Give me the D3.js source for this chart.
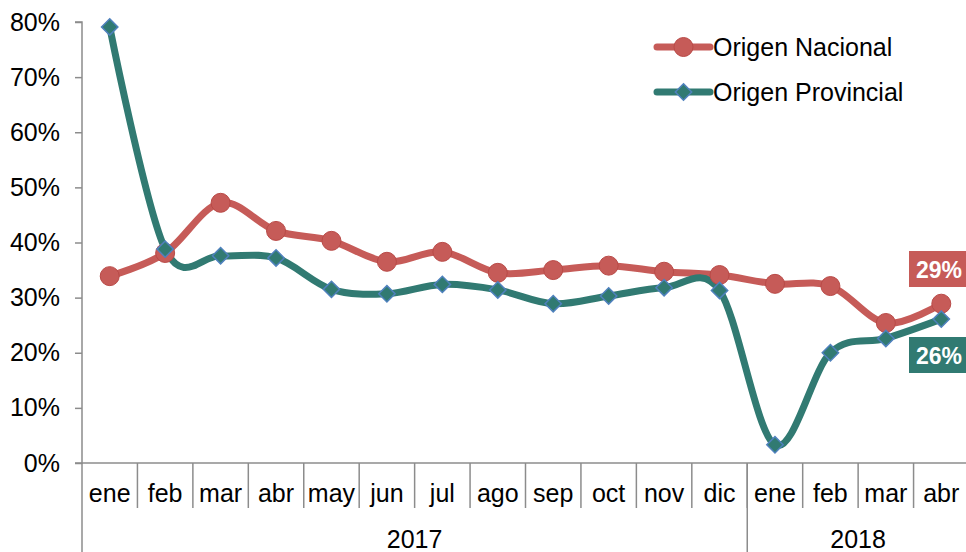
<!DOCTYPE html>
<html>
<head>
<meta charset="utf-8">
<script src="https://cdn.jsdelivr.net/npm/d3@7"></script>
<style>
  body { margin: 0; background: #fff; }
  text { font-family: "Liberation Sans", Arial, sans-serif; }
</style>
</head>
<body>
<div id="chart"></div>
<script>
// data
var months = ["ene","feb","mar","abr","may","jun","jul","ago","sep","oct","nov","dic","ene","feb","mar","abr"];
var years = ["2017","2018"];
var yearSpans = [12, 4];
var nacional = [33.9, 38.1, 47.2, 42.1, 40.3, 36.5, 38.3, 34.5, 35.0, 35.8, 34.7, 34.1, 32.5, 32.1, 25.4, 28.9];
var provincial = [79.1, 38.8, 37.6, 37.2, 31.5, 30.7, 32.4, 31.4, 28.9, 30.3, 31.8, 31.3, 3.3, 20.0, 22.6, 26.1];
var yTicks = [0, 10, 20, 30, 40, 50, 60, 70, 80];
var seriesNames = ["Origen Nacional", "Origen Provincial"];

var svgWidth = 966;
var svgHeight = 552;
var margin = { top: 22, right: -3, bottom: 89, left: 82 };
var chartWidth = svgWidth - margin.left - margin.right;
var chartHeight = svgHeight - margin.top - margin.bottom;
var fontSize = 25;

var red = "#C65B58";
var redDark = "#B94A47";
var teal = "#317A72";
var blue = "#4F81BD";
var axisColor = "#8C8C8C";

var svg = d3.select("#chart").append("svg")
  .attr("width", svgWidth)
  .attr("height", svgHeight);

var chartGroup = svg.append("g")
  .attr("transform", `translate(${margin.left}, ${margin.top})`);

var idx = d3.range(months.length);
var xScale = d3.scaleBand().domain(idx).range([0, chartWidth]);
var yScale = d3.scaleLinear().domain([0, 80]).range([chartHeight, 0]);
var xc = i => xScale(i) + xScale.bandwidth() / 2;

// y axis
var yAxis = d3.axisLeft(yScale).tickValues(yTicks).tickSize(7).tickPadding(15)
  .tickFormat(d => d + "%");
var yG = chartGroup.append("g").call(yAxis);
yG.select(".domain").attr("stroke", axisColor).attr("stroke-width", 1.5).attr("d", `M-7,${chartHeight}H0V0H-7`);
yG.selectAll(".tick line").attr("stroke", axisColor).attr("stroke-width", 1.5);
yG.selectAll(".tick text").attr("font-size", fontSize).attr("fill", "#000")
  .style("font-family", "'Liberation Sans', Arial, sans-serif");
// y axis line continues down through category labels
chartGroup.append("line")
  .attr("x1", 0).attr("x2", 0).attr("y1", chartHeight).attr("y2", svgHeight - margin.top)
  .attr("stroke", axisColor).attr("stroke-width", 1.5);

// x axis baseline
chartGroup.append("line")
  .attr("x1", 0).attr("x2", chartWidth).attr("y1", chartHeight).attr("y2", chartHeight)
  .attr("stroke", axisColor).attr("stroke-width", 1.5);

// month dividers
chartGroup.selectAll(".mdiv").data(idx.slice(1))
  .enter().append("line")
  .attr("x1", d => xScale(d)).attr("x2", d => xScale(d))
  .attr("y1", chartHeight).attr("y2", chartHeight + 45)
  .attr("stroke", axisColor).attr("stroke-width", 1.5);

chartGroup.selectAll(".mlabel").data(months)
  .enter().append("text")
  .attr("x", (d, i) => xc(i))
  .attr("y", chartHeight + 39)
  .attr("text-anchor", "middle")
  .attr("font-size", fontSize)
  .text(d => d);

// year dividers and labels
var start = 0;
years.forEach(function(y, k) {
  var x0 = xScale(start);
  var x1 = start + yearSpans[k] < months.length ? xScale(start + yearSpans[k]) : chartWidth;
  if (k > 0) {
    chartGroup.append("line")
      .attr("x1", x0).attr("x2", x0)
      .attr("y1", chartHeight).attr("y2", svgHeight - margin.top)
      .attr("stroke", axisColor).attr("stroke-width", 1.5);
  }
  chartGroup.append("text")
    .attr("x", (x0 + x1) / 2)
    .attr("y", chartHeight + 85)
    .attr("text-anchor", "middle")
    .attr("font-size", fontSize)
    .text(y);
  start += yearSpans[k];
});

var line = d3.line()
  .x((d, i) => xc(i))
  .y(d => yScale(d))
  .curve(d3.curveCardinal.tension(0));

// nacional
chartGroup.append("path").datum(nacional)
  .attr("d", line).attr("fill", "none")
  .attr("stroke", red).attr("stroke-width", 7).attr("stroke-linejoin", "round");

// provincial
chartGroup.append("path").datum(provincial)
  .attr("d", line).attr("fill", "none")
  .attr("stroke", teal).attr("stroke-width", 7).attr("stroke-linejoin", "round");

chartGroup.selectAll(".nac").data(nacional)
  .enter().append("circle")
  .attr("cx", (d, i) => xc(i)).attr("cy", d => yScale(d))
  .attr("r", 9.5).attr("fill", red).attr("stroke", redDark).attr("stroke-width", 1);

var diamond = d3.symbol().type(d3.symbolDiamond2).size(170);
chartGroup.selectAll(".prov").data(provincial)
  .enter().append("path")
  .attr("d", diamond)
  .attr("transform", (d, i) => `translate(${xc(i)},${yScale(d)})`)
  .attr("fill", teal).attr("stroke", blue).attr("stroke-width", 1.5);

// end labels
var last = months.length - 1;
function endLabel(val, color, cy) {
  var g = svg.append("g");
  g.append("rect").attr("x", 909).attr("y", cy - 18).attr("width", 60).attr("height", 36).attr("fill", color);
  g.append("text").attr("x", 916).attr("y", cy + 8.5)
    .attr("font-size", 23).attr("font-weight", "bold").attr("fill", "#fff")
    .text(Math.round(val) + "%");
}
endLabel(nacional[last], red, 269);
endLabel(provincial[last], teal, 355);

// legend
var legend = svg.append("g").attr("transform", "translate(657, 47)");
seriesNames.forEach(function(name, k) {
  var g = legend.append("g").attr("transform", `translate(0, ${k * 45})`);
  g.append("line").attr("x1", 0).attr("x2", 53).attr("y1", 0).attr("y2", 0)
    .attr("stroke", k === 0 ? red : teal).attr("stroke-width", 7).attr("stroke-linecap", "round");
  if (k === 0) {
    g.append("circle").attr("cx", 26.5).attr("cy", 0).attr("r", 9.5)
      .attr("fill", red).attr("stroke", redDark).attr("stroke-width", 1);
  } else {
    g.append("path").attr("d", diamond).attr("transform", "translate(26.5,0)")
      .attr("fill", teal).attr("stroke", blue).attr("stroke-width", 1.5);
  }
  g.append("text").attr("x", 56).attr("y", 9).attr("font-size", fontSize).text(name);
});
</script>
</body>
</html>
